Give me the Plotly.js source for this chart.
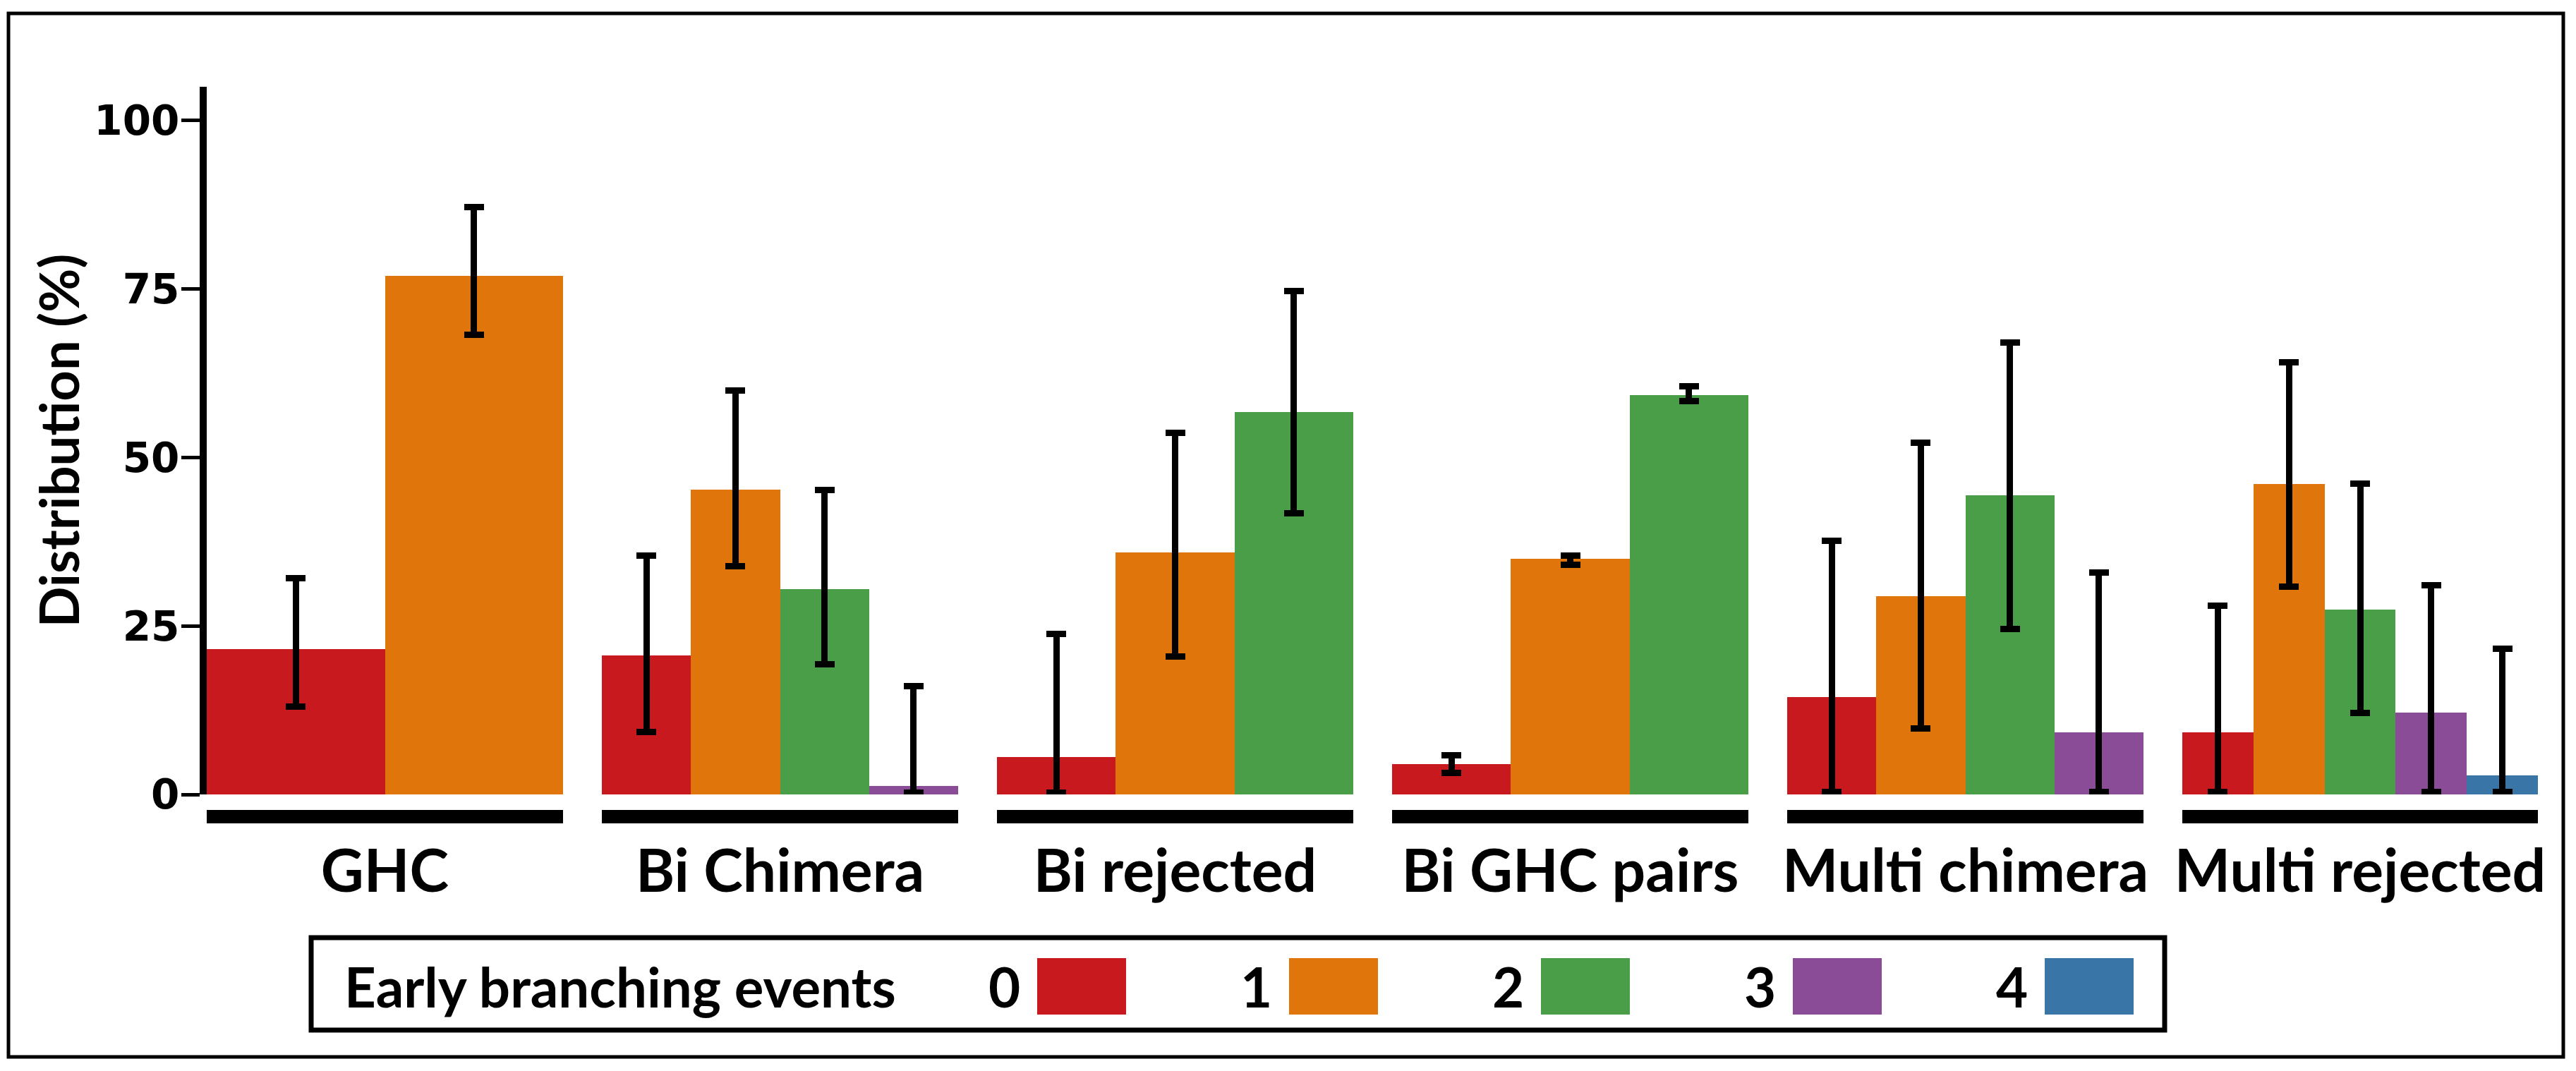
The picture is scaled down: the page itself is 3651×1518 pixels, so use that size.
<!DOCTYPE html>
<html>
<head>
<meta charset="utf-8">
<script src="https://cdn.plot.ly/plotly-3.0.1.min.js"></script>
<style>
  html, body { margin: 0; padding: 0; background: #fff; }
  #chart { width: 3651px; height: 1518px; }
</style>
</head>
<body>
<div id="chart"></div>
<script>
// groups along the x axis
const groups = ['GHC', 'Bi Chimera', 'Bi rejected', 'Bi GHC pairs', 'Multi chimera', 'Multi rejected'];
// number of early branching events (legend)
const events = ['0', '1', '2', '3', '4'];
const eventColors = ['#c8191e', '#e0760b', '#4a9e47', '#8a4c96', '#3a75a8'];

// distribution (%) per event, one value per group (null = no bar)
const ev0 = [21.6, 20.6, 5.5, 4.5, 14.4, 9.2];
const ev1 = [76.9, 45.2, 35.9, 35.0, 29.4, 46.1];
const ev2 = [null, 30.5, 56.7, 59.3, 44.4, 27.4];
const ev3 = [null, 1.3, null, null, 9.2, 12.1];
const ev4 = [null, null, null, null, null, 2.8];

// error bars: upper / lower length
const ev0Up = [10.5, 14.8, 18.3, 1.3, 23.2, 18.8];
const ev0Down = [8.6, 11.3, 5.2, 1.3, 14.0, 8.8];
const ev1Up = [10.2, 14.7, 17.7, 0.4, 22.8, 18.0];
const ev1Down = [8.7, 11.3, 15.4, 0.9, 19.6, 15.3];
const ev2Up = [null, 14.7, 18.0, 1.3, 22.6, 18.7];
const ev2Down = [null, 11.2, 15.0, 0.9, 19.9, 15.3];
const ev3Up = [null, 14.8, null, null, 23.7, 18.9];
const ev3Down = [null, 1.0, null, null, 8.8, 11.7];
const ev4Up = [null, null, null, null, null, 18.8];
const ev4Down = [null, null, null, null, null, 2.4];

const yTicks = [0, 25, 50, 75, 100];

const values = [ev0, ev1, ev2, ev3, ev4];
const errUp = [ev0Up, ev1Up, ev2Up, ev3Up, ev4Up];
const errDown = [ev0Down, ev1Down, ev2Down, ev3Down, ev4Down];

// page geometry (px) -> paper coords
const W = 3651, H = 1518;
const M = { l: 293, r: 54, t: 123, b: 361 };
const pw = W - M.l - M.r, ph = H - M.t - M.b;
const px = x => (x - M.l) / pw;
const py = y => (H - M.b - y) / ph;

const groupFont = { family: 'Lato, sans-serif', size: 84, color: '#000', weight: 700 };
const legendFont = { family: 'Lato, sans-serif', size: 78, color: '#000', weight: 700 };

// one x axis per group, so each group only splits its own bars
function axisKey(g) { return g === 0 ? 'x' : 'x' + (g + 1); }

const traces = [];
for (let g = 0; g < groups.length; g++) {
  for (let e = 0; e < events.length; e++) {
    const v = values[e][g];
    if (v === null) continue;
    traces.push({
      type: 'bar',
      x: [groups[g]],
      y: [v],
      xaxis: axisKey(g),
      yaxis: 'y',
      name: events[e],
      showlegend: false,
      marker: { color: eventColors[e], line: { width: 0 } },
      error_y: {
        type: 'data',
        symmetric: false,
        array: [errUp[e][g]],
        arrayminus: [errDown[e][g]],
        color: '#000',
        thickness: 9,
        width: 14
      },
      hoverinfo: 'skip'
    });
  }
}

const layout = {
  width: W,
  height: H,
  margin: M,
  paper_bgcolor: '#fff',
  plot_bgcolor: 'rgba(0,0,0,0)',
  barmode: 'group',
  bargap: 0,
  bargroupgap: 0,
  showlegend: false,
  yaxis: {
    anchor: 'x',
    domain: [py(1126), 1],
    range: [0, 105],
    tickvals: yTicks,
    ticks: 'outside',
    ticklen: 26,
    tickwidth: 5,
    tickcolor: '#000',
    ticklabelstandoff: -9,
    showline: true,
    linewidth: 10,
    linecolor: '#000',
    showgrid: false,
    zeroline: false,
    tickfont: { family: 'DejaVu Sans, sans-serif', size: 58, color: '#000', weight: 700 },
    title: {
      text: 'Distribution (%)',
      font: { family: 'Lato, sans-serif', size: 76, color: '#000', weight: 700 },
      standoff: 0
    }
  },
  shapes: [],
  annotations: []
};

// x axes: thick black line under each group, label below
const groupStart = 293, groupWidth = 505, groupStep = 560;
for (let g = 0; g < groups.length; g++) {
  const x0 = groupStart + g * groupStep;
  layout[g === 0 ? 'xaxis' : 'xaxis' + (g + 1)] = {
    domain: [px(x0), px(x0 + groupWidth)],
    anchor: 'free',
    position: 0,
    type: 'category',
    showline: true,
    linewidth: 19,
    linecolor: '#000',
    ticks: '',
    showgrid: false,
    zeroline: false,
    tickfont: groupFont,
    ticklabelstandoff: -4
  };
}

// legend box drawn by hand: label first, then swatch
layout.shapes.push({
  type: 'rect', xref: 'paper', yref: 'paper',
  x0: px(441), x1: px(3068), y0: py(1460), y1: py(1329),
  line: { color: '#000', width: 7 }, fillcolor: 'rgba(0,0,0,0)'
});
layout.annotations.push({
  xref: 'paper', yref: 'paper', x: px(486), y: py(1398),
  xanchor: 'left', yanchor: 'middle', showarrow: false,
  text: 'Early branching events', font: legendFont
});
const swatchStart = 1470, swatchStep = 357, swatchW = 126;
for (let e = 0; e < events.length; e++) {
  const sx = swatchStart + e * swatchStep;
  layout.shapes.push({
    type: 'rect', xref: 'paper', yref: 'paper',
    x0: px(sx), x1: px(sx + swatchW), y0: py(1438), y1: py(1358),
    line: { width: 0 }, fillcolor: eventColors[e]
  });
  layout.annotations.push({
    xref: 'paper', yref: 'paper', x: px(sx - 22), y: py(1398),
    xanchor: 'right', yanchor: 'middle', showarrow: false,
    text: events[e], font: legendFont
  });
}

// outer frame
layout.shapes.push({
  type: 'rect', xref: 'paper', yref: 'paper',
  x0: px(12), x1: px(3633), y0: py(1498), y1: py(19),
  line: { color: '#000', width: 5 }, fillcolor: 'rgba(0,0,0,0)'
});

Plotly.newPlot('chart', traces, layout, { staticPlot: true, displayModeBar: false });
</script>
</body>
</html>
